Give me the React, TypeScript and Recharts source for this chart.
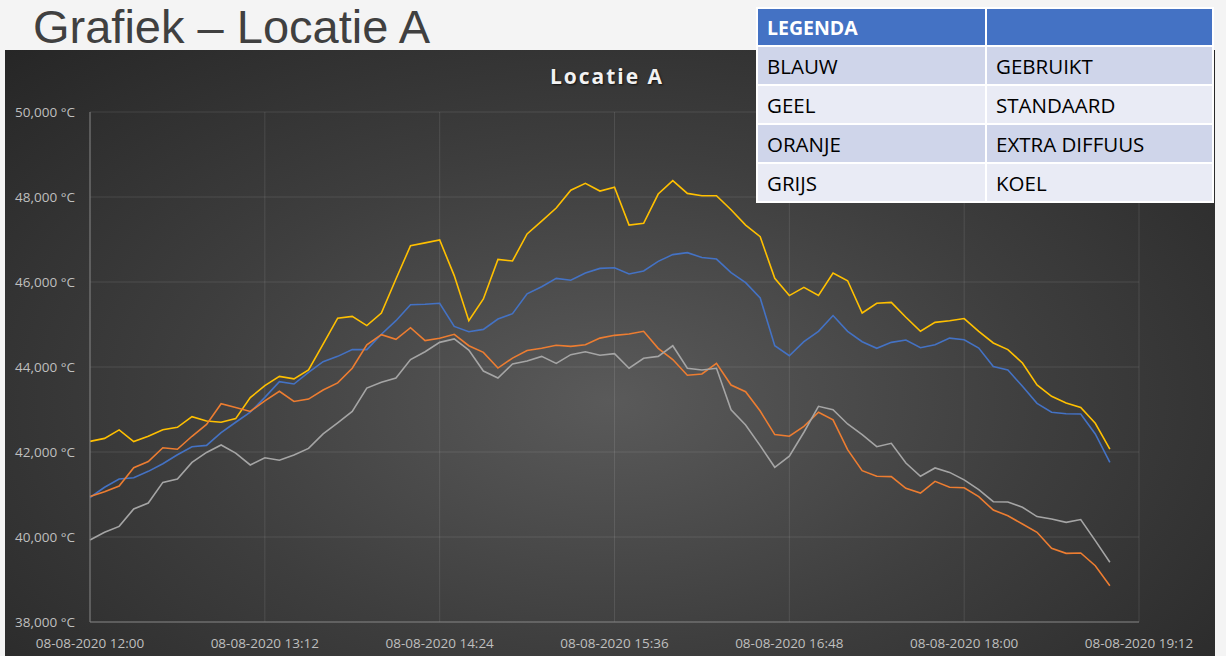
import { LineChart, Line, XAxis, YAxis, CartesianGrid } from 'recharts';

// sample times, every 6 minutes on 08-08-2020
const times = [
  '12:00', '12:06', '12:12', '12:18', '12:24', '12:30', '12:36', '12:42', '12:48', '12:54',
  '13:00', '13:06', '13:12', '13:18', '13:24', '13:30', '13:36', '13:42', '13:48', '13:54',
  '14:00', '14:06', '14:12', '14:18', '14:24', '14:30', '14:36', '14:42', '14:48', '14:54',
  '15:00', '15:06', '15:12', '15:18', '15:24', '15:30', '15:36', '15:42', '15:48', '15:54',
  '16:00', '16:06', '16:12', '16:18', '16:24', '16:30', '16:36', '16:42', '16:48', '16:54',
  '17:00', '17:06', '17:12', '17:18', '17:24', '17:30', '17:36', '17:42', '17:48', '17:54',
  '18:00', '18:06', '18:12', '18:18', '18:24', '18:30', '18:36', '18:42', '18:48', '18:54',
  '19:00',
];

// BLAUW - gebruikt
const gebruikt = [
  40930, 41170, 41365, 41395, 41545, 41725, 41935, 42125, 42155, 42455,
  42700, 42940, 43285, 43655, 43600, 43875, 44125, 44250, 44410, 44410,
  44770, 45090, 45465, 45475, 45500, 44955, 44830, 44885, 45130, 45255,
  45720, 45890, 46085, 46040, 46210, 46320, 46335, 46190, 46260, 46485,
  46645, 46690, 46575, 46540, 46220, 45985, 45625, 44500, 44265, 44595,
  44840, 45210, 44840, 44595, 44440, 44580, 44635, 44455, 44525, 44680,
  44640, 44445, 44010, 43930, 43545, 43145, 42935, 42900, 42895, 42425,
  41755,
];

// GEEL - standaard
const standaard = [
  42250, 42320, 42520, 42245, 42370, 42525, 42580, 42830, 42730, 42700,
  42785, 43280, 43560, 43780, 43720, 43930, 44540, 45150, 45190, 44975,
  45270, 46070, 46855, 46920, 46990, 46150, 45090, 45600, 46530, 46495,
  47130, 47430, 47740, 48160, 48320, 48140, 48230, 47340, 47380, 48070,
  48385, 48085, 48030, 48030, 47700, 47340, 47065, 46085, 45680, 45875,
  45685, 46210, 46030, 45270, 45500, 45520, 45170, 44840, 45050, 45090,
  45140, 44840, 44565, 44410, 44095, 43580, 43310, 43155, 43050, 42675,
  42070,
];

// ORANJE - extra diffuus
const extraDiffuus = [
  40955, 41065, 41200, 41630, 41775, 42100, 42065, 42370, 42650, 43135,
  43045, 42955, 43205, 43430, 43190, 43245, 43460, 43625, 43970, 44520,
  44760, 44650, 44925, 44620, 44675, 44770, 44500, 44345, 43975, 44210,
  44390, 44440, 44510, 44485, 44525, 44680, 44745, 44775, 44840, 44440,
  44175, 43805, 43835, 44085, 43575, 43420, 42965, 42410, 42370, 42605,
  42935, 42755, 42055, 41560, 41430, 41420, 41145, 41035, 41310, 41170,
  41160, 40950, 40635, 40500, 40305, 40110, 39735, 39615, 39625, 39325,
  38855,
];

// GRIJS - koel
const koel = [
  39930, 40110, 40250, 40660, 40800, 41285, 41365, 41755, 41990, 42165,
  41975, 41695, 41865, 41805, 41930, 42085, 42425, 42685, 42955, 43505,
  43640, 43740, 44175, 44360, 44580, 44660, 44400, 43905, 43740, 44070,
  44140, 44250, 44085, 44290, 44360, 44275, 44315, 43970, 44205, 44250,
  44500, 43970, 43930, 43970, 42995, 42635, 42150, 41640, 41900, 42465,
  43075, 42995, 42660, 42410, 42125, 42205, 41740, 41430, 41625, 41520,
  41345, 41115, 40830, 40825, 40700, 40480, 40425, 40345, 40410, 39915,
  39405,
];

const xTicks = ['12:00', '13:12', '14:24', '15:36', '16:48', '18:00', '19:12'];
const yTicks = [38000, 40000, 42000, 44000, 46000, 48000, 50000];

const legendRows = [
  ['BLAUW', 'GEBRUIKT'],
  ['GEEL', 'STANDAARD'],
  ['ORANJE', 'EXTRA DIFFUUS'],
  ['GRIJS', 'KOEL'],
];

const toMin = (t: string) => {
  const [h, m] = t.split(':').map(Number);
  return (h - 12) * 60 + m;
};

const fmtTime = (v: number) => {
  const h = 12 + Math.floor(v / 60);
  const m = v % 60;
  return `08-08-2020 ${h}:${String(m).padStart(2, '0')}`;
};

const data = times.map((t, i) => ({
  min: toMin(t),
  gebruikt: gebruikt[i],
  standaard: standaard[i],
  extraDiffuus: extraDiffuus[i],
  koel: koel[i],
}));

const tickStyle = { fill: '#bfbfbf', fontSize: 13.5, fontFamily: 'Open Sans' };

const App = () => {
  return (
    <div style={{ position: 'absolute', left: 0, top: 0, width: 1226, height: 656, overflow: 'hidden', background: '#f4f4f4' }}>
      <div
        style={{
          position: 'absolute',
          left: 33,
          top: 0,
          fontFamily: 'Liberation Sans',
          fontSize: 47,
          lineHeight: '53px',
          color: '#404040',
          whiteSpace: 'nowrap',
        }}
      >
        Grafiek – Locatie A
      </div>
      <div
        style={{
          position: 'absolute',
          left: 5,
          top: 50,
          width: 1210,
          height: 606,
          background: 'radial-gradient(ellipse farthest-corner at 50% 58%, #5a5a5a 0%, #3e3e3e 50%, #262626 100%)',
        }}
      />
      <div
        style={{
          position: 'absolute',
          left: 0,
          width: 1214,
          top: 62,
          textAlign: 'center',
          fontFamily: 'Open Sans',
          fontWeight: 700,
          fontSize: 21,
          letterSpacing: 2,
          color: '#f2f2f2',
          textShadow: '1px 1px 2px rgba(0,0,0,0.7)',
        }}
      >
        Locatie A
      </div>
      <div style={{ position: 'absolute', left: 0, top: 0 }}>
        <LineChart width={1226} height={656} data={data} margin={{ top: 112, right: 87, bottom: 4, left: 12 }}>
          <CartesianGrid stroke='#ffffff' strokeOpacity={0.1} />
          <XAxis
            type='number'
            dataKey='min'
            domain={[0, 432]}
            ticks={xTicks.map(toMin)}
            tickFormatter={fmtTime}
            tick={tickStyle}
            tickLine={false}
            tickSize={6}
            tickMargin={10}
            height={30}
            stroke='#7f7f7f'
          />
          <YAxis
            domain={[38000, 50000]}
            ticks={yTicks}
            tickFormatter={(v: number) => `${v.toLocaleString('en-US')} °C`}
            tick={tickStyle}
            tickLine={false}
            tickSize={6}
            tickMargin={9}
            width={78}
            stroke='#7f7f7f'
          />
          <Line dataKey='gebruikt' stroke='#4472c4' strokeWidth={1.6} dot={false} isAnimationActive={false} />
          <Line dataKey='standaard' stroke='#ffc000' strokeWidth={1.6} dot={false} isAnimationActive={false} />
          <Line dataKey='extraDiffuus' stroke='#ed7d31' strokeWidth={1.6} dot={false} isAnimationActive={false} />
          <Line dataKey='koel' stroke='#a5a5a5' strokeWidth={1.6} dot={false} isAnimationActive={false} />
        </LineChart>
      </div>
      <table
        style={{
          position: 'absolute',
          left: 756,
          top: 7,
          width: 458,
          borderCollapse: 'separate',
          borderSpacing: 2,
          background: '#ffffff',
          fontFamily: 'Open Sans',
          fontSize: 20.5,
          color: '#000000',
        }}
      >
        <tbody>
          <tr style={{ height: 36 }}>
            <td style={{ background: '#4472c4', color: '#ffffff', fontWeight: 700, fontSize: 19.5, padding: '0 9px', width: 209 }}>
              LEGENDA
            </td>
            <td style={{ background: '#4472c4' }} />
          </tr>
          {legendRows.map((r, i) => (
            <tr key={r[0]} style={{ height: 37 }}>
              <td style={{ background: i % 2 === 0 ? '#cfd5ea' : '#e9ebf5', padding: '0 9px' }}>{r[0]}</td>
              <td style={{ background: i % 2 === 0 ? '#cfd5ea' : '#e9ebf5', padding: '0 9px' }}>{r[1]}</td>
            </tr>
          ))}
        </tbody>
      </table>
    </div>
  );
};

export default App;
